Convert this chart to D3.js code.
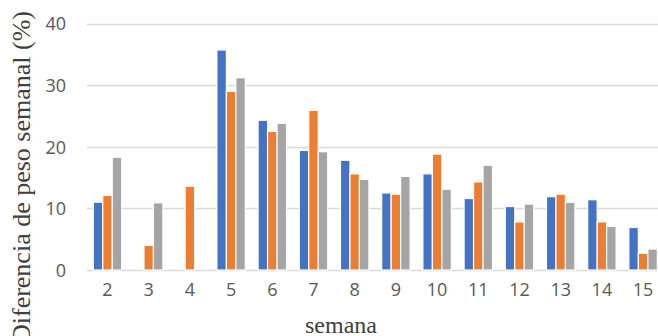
<!DOCTYPE html>
<html>
<head>
<meta charset="utf-8">
<script src="https://cdn.jsdelivr.net/npm/d3@7"></script>
<style>
  html, body { margin: 0; padding: 0; background: #fff; }
  svg { display: block; }
</style>
</head>
<body>
<svg id="chart" width="658" height="336"></svg>
<script>
const weeks = ["2","3","4","5","6","7","8","9","10","11","12","13","14","15"];
const seriesNames = ["Serie 1","Serie 2","Serie 3"];
const serie1 = [11.0, null, null, 35.7, 24.3, 19.4, 17.8, 12.5, 15.6, 11.6, 10.3, 11.9, 11.4, 6.9];
const serie2 = [12.1, 4.0, 13.6, 29.0, 22.5, 25.9, 15.6, 12.3, 18.8, 14.3, 7.8, 12.3, 7.8, 2.7];
const serie3 = [18.3, 10.9, null, 31.2, 23.8, 19.2, 14.7, 15.2, 13.1, 17.0, 10.7, 11.0, 7.1, 3.4];
const yTicks = [0, 10, 20, 30, 40];
const colors = ["#4472C4", "#ED7D31", "#A5A5A5"];
const yTitle = "Diferencia de peso semanal (%)";
const xTitle = "semana";

const seriesData = [serie1, serie2, serie3];
const svg = d3.select("#chart");

const plotLeft = 86.9, plotRight = 663.7, plotTop = 23.5, plotBottom = 270;

const x0 = d3.scaleBand().domain(weeks).range([plotLeft, plotRight]).paddingInner(0.31).paddingOuter(0.155);
const x1 = d3.scaleBand().domain(d3.range(3)).range([0, x0.bandwidth()]);
const y = d3.scaleLinear().domain([0, 40]).range([plotBottom, plotTop]);

// gridlines
svg.append("g").selectAll("line").data(yTicks).join("line")
  .attr("x1", plotLeft).attr("x2", 658)
  .attr("y1", d => Math.round(y(d)) + 0.5).attr("y2", d => Math.round(y(d)) + 0.5)
  .attr("stroke", "#D9D9D9").attr("stroke-width", 1.3);

// bars
const groups = svg.append("g").selectAll("g").data(weeks).join("g")
  .attr("transform", d => `translate(${x0(d)},0)`);
groups.selectAll("rect")
  .data((d, i) => seriesData.map((s, k) => ({k, v: s[i]})).filter(e => e.v != null))
  .join("rect")
  .attr("x", e => x1(e.k))
  .attr("width", x1.bandwidth())
  .attr("y", e => y(e.v))
  .attr("height", e => y(0) - y(e.v))
  .attr("fill", e => colors[e.k])
  .attr("stroke", "#fff").attr("stroke-width", 1.2);

// y axis labels
const yAxis = d3.axisLeft(y).tickValues(yTicks).tickSize(0).tickPadding(0);
const gy = svg.append("g").attr("transform", "translate(66,0)").call(yAxis);
gy.select(".domain").remove();
gy.selectAll("text").attr("font-family", "'Open Sans', sans-serif").attr("font-size", 18).attr("fill", "#595959").attr("dy", "0.35em");

// x axis labels
const xAxis = d3.axisBottom(x0).tickSize(0).tickPadding(0);
const gx = svg.append("g").attr("transform", "translate(0,295)").call(xAxis);
gx.select(".domain").remove();
gx.selectAll("text").attr("font-family", "'Open Sans', sans-serif").attr("font-size", 18).attr("fill", "#595959").attr("dy", "0.05em");

// titles
svg.append("text")
  .attr("transform", "translate(30,177) rotate(-90)")
  .attr("text-anchor", "middle")
  .attr("font-family", "'Liberation Serif', 'Times New Roman', serif")
  .attr("font-size", 26).attr("fill", "#404040")
  .text(yTitle);
svg.append("text")
  .attr("x", 341).attr("y", 333)
  .attr("text-anchor", "middle")
  .attr("font-family", "'Liberation Serif', 'Times New Roman', serif")
  .attr("font-size", 24).attr("fill", "#404040")
  .text(xTitle);
</script>
</body>
</html>
